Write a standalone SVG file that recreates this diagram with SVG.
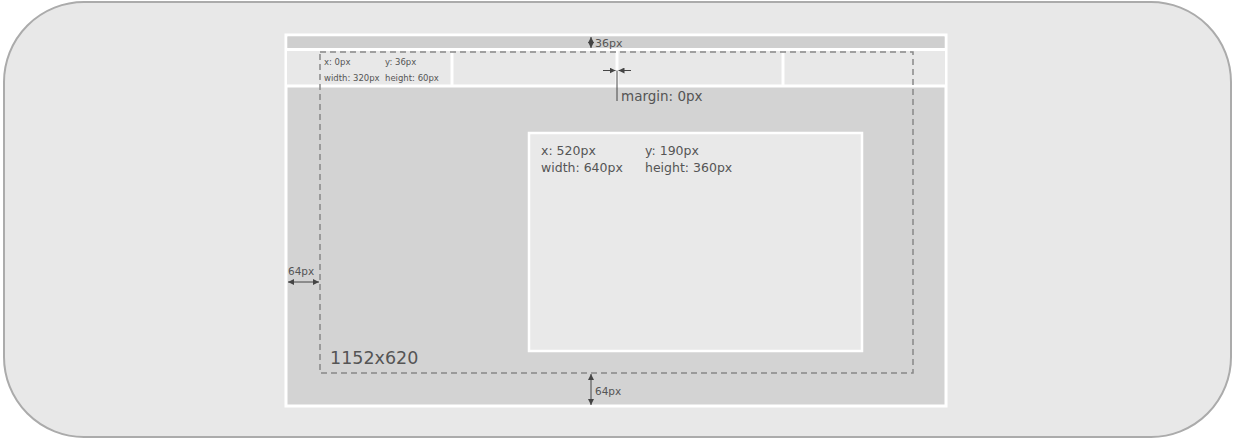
<svg xmlns="http://www.w3.org/2000/svg" width="1235" height="441" viewBox="0 0 1235 441">
<style>
.t{font-family:"DejaVu Sans","Liberation Sans",sans-serif;fill:#555}
.s{font-size:8.5px}
.m{font-size:12.5px}
.dim{stroke:#444;stroke-width:1;fill:none}
.cell{fill:#e8e8e8}
.div{stroke:#fff;stroke-width:3}
</style>
<defs>
<marker id="ah" viewBox="0 0 6 6" refX="6" refY="3" markerWidth="6" markerHeight="6" orient="auto-start-reverse" markerUnits="userSpaceOnUse">
<path d="M0,0 L6,3 L0,6 z" fill="#444"/>
</marker>
</defs>
<rect x="4" y="2" width="1227" height="435" rx="80" ry="80" fill="#e8e8e8" stroke="#ababab" stroke-width="2"/>
<g id="screen">
<rect x="286" y="35" width="660" height="371" fill="#d3d3d3" stroke="#fff" stroke-width="3"/>
<rect x="287.5" y="36.5" width="657" height="11.5" fill="#cfcfcf"/>
</g>
<g id="header">
<rect x="287.5" y="50" width="657" height="35" class="cell"/>
<line x1="286" y1="49.5" x2="946" y2="49.5" class="div"/>
<line x1="286" y1="86" x2="946" y2="86" class="div"/>
<line x1="452" y1="49" x2="452" y2="86" class="div"/>
<line x1="617" y1="49" x2="617" y2="86" class="div"/>
<line x1="783" y1="49" x2="783" y2="86" class="div"/>
<text class="t s" x="324" y="65">x: 0px</text>
<text class="t s" x="385" y="65">y: 36px</text>
<text class="t s" x="324" y="81">width: 320px</text>
<text class="t s" x="385" y="81">height: 60px</text>
</g>
<g id="safe-area">
<rect x="320" y="52" width="593" height="321" fill="none" stroke="#888" stroke-width="1.5" stroke-dasharray="6,4"/>
<text class="t" x="330" y="364" font-size="17.5">1152x620</text>
</g>
<g id="window">
<rect x="529" y="133" width="333" height="218" fill="#e9e9e9" stroke="#fff" stroke-width="2.5"/>
<text class="t m" x="541" y="155">x: 520px</text>
<text class="t m" x="645" y="155">y: 190px</text>
<text class="t m" x="541" y="171.5">width: 640px</text>
<text class="t m" x="645" y="171.5">height: 360px</text>
</g>
<g id="connectors">
<line x1="591" y1="37" x2="591" y2="48" class="dim" marker-start="url(#ah)" marker-end="url(#ah)"/>
<line x1="603" y1="70.5" x2="615.5" y2="70.5" class="dim" marker-end="url(#ah)"/>
<line x1="631" y1="70.5" x2="618.5" y2="70.5" class="dim" marker-end="url(#ah)"/>
<line x1="617" y1="70.5" x2="617" y2="101" class="dim"/>
<line x1="288" y1="282" x2="319" y2="282" class="dim" marker-start="url(#ah)" marker-end="url(#ah)"/>
<line x1="591" y1="374" x2="591" y2="405" class="dim" marker-start="url(#ah)" marker-end="url(#ah)"/>
</g>
<g id="labels">
<text class="t" x="595" y="46.5" font-size="11">36px</text>
<text class="t" x="621" y="100.5" font-size="13.5">margin: 0px</text>
<text class="t" x="288" y="275" font-size="10.5">64px</text>
<text class="t" x="595" y="395" font-size="10.5">64px</text>
</g>
</svg>
